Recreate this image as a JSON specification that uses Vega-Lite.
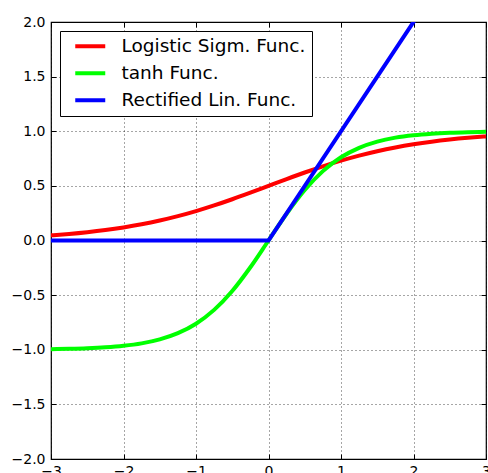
{
  "$schema": "https://vega.github.io/schema/vega-lite/v6.json",
  "width": 435,
  "height": 437,
  "autosize": {"type": "none"},
  "padding": {"left": 51, "top": 22, "right": 2, "bottom": 14},
  "config": {
    "font": "DejaVu Sans",
    "view": {"stroke": "#000", "strokeWidth": 1.2},
    "axis": {
      "domain": false,
      "gridColor": "#000",
      "gridDash": [1, 3],
      "gridOpacity": 0.7,
      "gridWidth": 1,
      "tickColor": "#000",
      "tickSize": -5,
      "labelFontSize": 14,
      "labelColor": "#000",
      "labelFont": "DejaVu Sans",
      "labelFlush": false,
      "labelOverlap": false,
      "title": null
    }
  },
  "datasets": {
    "curves": [
      {"x": -3, "y": 0.0474, "f": "Logistic Sigm. Func."},
      {"x": -2.75, "y": 0.0601, "f": "Logistic Sigm. Func."},
      {"x": -2.5, "y": 0.0759, "f": "Logistic Sigm. Func."},
      {"x": -2.25, "y": 0.0953, "f": "Logistic Sigm. Func."},
      {"x": -2, "y": 0.1192, "f": "Logistic Sigm. Func."},
      {"x": -1.75, "y": 0.148, "f": "Logistic Sigm. Func."},
      {"x": -1.5, "y": 0.1824, "f": "Logistic Sigm. Func."},
      {"x": -1.25, "y": 0.2227, "f": "Logistic Sigm. Func."},
      {"x": -1, "y": 0.2689, "f": "Logistic Sigm. Func."},
      {"x": -0.75, "y": 0.3208, "f": "Logistic Sigm. Func."},
      {"x": -0.5, "y": 0.3775, "f": "Logistic Sigm. Func."},
      {"x": -0.25, "y": 0.4378, "f": "Logistic Sigm. Func."},
      {"x": 0, "y": 0.5, "f": "Logistic Sigm. Func."},
      {"x": 0.25, "y": 0.5622, "f": "Logistic Sigm. Func."},
      {"x": 0.5, "y": 0.6225, "f": "Logistic Sigm. Func."},
      {"x": 0.75, "y": 0.6792, "f": "Logistic Sigm. Func."},
      {"x": 1, "y": 0.7311, "f": "Logistic Sigm. Func."},
      {"x": 1.25, "y": 0.7773, "f": "Logistic Sigm. Func."},
      {"x": 1.5, "y": 0.8176, "f": "Logistic Sigm. Func."},
      {"x": 1.75, "y": 0.852, "f": "Logistic Sigm. Func."},
      {"x": 2, "y": 0.8808, "f": "Logistic Sigm. Func."},
      {"x": 2.25, "y": 0.9047, "f": "Logistic Sigm. Func."},
      {"x": 2.5, "y": 0.9241, "f": "Logistic Sigm. Func."},
      {"x": 2.75, "y": 0.9399, "f": "Logistic Sigm. Func."},
      {"x": 3, "y": 0.9526, "f": "Logistic Sigm. Func."},
      {"x": -3, "y": -0.9951, "f": "tanh Func."},
      {"x": -2.75, "y": -0.9918, "f": "tanh Func."},
      {"x": -2.5, "y": -0.9866, "f": "tanh Func."},
      {"x": -2.25, "y": -0.978, "f": "tanh Func."},
      {"x": -2, "y": -0.964, "f": "tanh Func."},
      {"x": -1.75, "y": -0.9414, "f": "tanh Func."},
      {"x": -1.5, "y": -0.9051, "f": "tanh Func."},
      {"x": -1.25, "y": -0.8483, "f": "tanh Func."},
      {"x": -1, "y": -0.7616, "f": "tanh Func."},
      {"x": -0.75, "y": -0.6351, "f": "tanh Func."},
      {"x": -0.5, "y": -0.4621, "f": "tanh Func."},
      {"x": -0.25, "y": -0.2449, "f": "tanh Func."},
      {"x": 0, "y": 0, "f": "tanh Func."},
      {"x": 0.25, "y": 0.2449, "f": "tanh Func."},
      {"x": 0.5, "y": 0.4621, "f": "tanh Func."},
      {"x": 0.75, "y": 0.6351, "f": "tanh Func."},
      {"x": 1, "y": 0.7616, "f": "tanh Func."},
      {"x": 1.25, "y": 0.8483, "f": "tanh Func."},
      {"x": 1.5, "y": 0.9051, "f": "tanh Func."},
      {"x": 1.75, "y": 0.9414, "f": "tanh Func."},
      {"x": 2, "y": 0.964, "f": "tanh Func."},
      {"x": 2.25, "y": 0.978, "f": "tanh Func."},
      {"x": 2.5, "y": 0.9866, "f": "tanh Func."},
      {"x": 2.75, "y": 0.9918, "f": "tanh Func."},
      {"x": 3, "y": 0.9951, "f": "tanh Func."}
    ],
    "relu": [
      {"x": -3, "y": 0, "f": "Rectified Lin. Func."},
      {"x": 0, "y": 0, "f": "Rectified Lin. Func."},
      {"x": 3, "y": 3, "f": "Rectified Lin. Func."}
    ]
  },
  "layer": [
    {
      "data": {"name": "curves"},
      "mark": {"type": "line", "strokeWidth": 4, "clip": true, "interpolate": "monotone"},
      "encoding": {
        "x": {"field": "x", "type": "quantitative", "scale": {"domain": [-3, 3], "nice": false, "zero": false},
              "axis": {"values": [-3, -2, -1, 0, 1, 2, 3], "labelPadding": 10, "format": "d"}},
        "y": {"field": "y", "type": "quantitative", "scale": {"domain": [-2, 2], "nice": false, "zero": false},
              "axis": {"values": [-2, -1.5, -1, -0.5, 0, 0.5, 1, 1.5, 2], "format": ".1f", "labelPadding": 11}},
        "color": {"field": "f", "type": "nominal", "sort": null,
          "scale": {"domain": ["Logistic Sigm. Func.", "tanh Func.", "Rectified Lin. Func."], "range": ["#ff0000", "#00ff00", "#0000ff"]},
          "legend": {"title": null, "orient": "none", "legendX": 9, "legendY": 9,
            "symbolType": "M-3,0H3", "symbolSize": 100, "symbolStrokeWidth": 4, "symbolOffset": 15,
            "labelFontSize": 18.5, "labelColor": "#000", "labelOffset": 22, "labelLimit": 400,
            "strokeColor": "#000", "fillColor": "#fff", "padding": 6, "rowPadding": 8,
            "cornerRadius": 0}}
      }
    },
    {
      "data": {"name": "relu"},
      "mark": {"type": "line", "strokeWidth": 4, "clip": true},
      "encoding": {
        "x": {"field": "x", "type": "quantitative", "axis": null},
        "y": {"field": "y", "type": "quantitative", "axis": null},
        "color": {"field": "f", "type": "nominal", "sort": null}
      }
    },
    {
      "data": {"name": "relu"},
      "mark": {"type": "rule", "opacity": 0},
      "encoding": {
        "x": {"field": "x", "type": "quantitative", "axis": {"orient": "top", "values": [-3, -2, -1, 0, 1, 2, 3], "labels": false, "grid": false}},
        "y": {"field": "y", "type": "quantitative", "axis": {"orient": "right", "values": [-2, -1.5, -1, -0.5, 0, 0.5, 1, 1.5, 2], "labels": false, "grid": false}}
      }
    }
  ],
  "resolve": {"axis": {"x": "independent", "y": "independent"}}
}
